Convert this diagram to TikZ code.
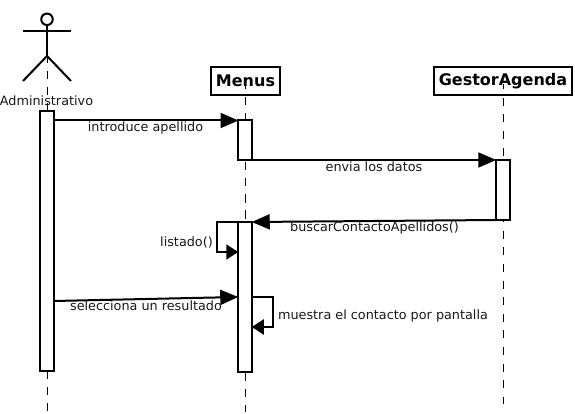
\documentclass[tikz,border=0pt]{standalone}
\usepackage{fontspec}
\setmainfont{DejaVu Sans}
\usetikzlibrary{arrows.meta}
\tikzset{
  lifeline/.style={line width=1pt},
  headbox/.style={draw,line width=2pt,fill=white,minimum height=28pt,inner sep=0pt,outer sep=0pt,font=\fontsize{16}{18}\selectfont\bfseries},
  activation/.style={draw,line width=2pt,fill=white,minimum width=13.5pt,inner sep=0pt,outer sep=0pt},
  msg/.style={line width=2pt,-{Triangle[length=18pt,width=15pt]}},
  selfmsg/.style={line width=2pt,-{Triangle[length=12pt,width=15pt]}},
  msglabel/.style={inner sep=0pt,font=\fontsize{12.8}{15}\selectfont,text=black!90},
  actorline/.style={line width=2pt}
}
\begin{document}
\begin{tikzpicture}[x=1pt,y=-1pt]
\useasboundingbox (0,0) rectangle (575,414);
\fill[white] (0,0) rectangle (575,414);
% lifelines
\coordinate (lA0) at (47.5,56); \coordinate (lA1) at (47.5,411);
\coordinate (lM0) at (245.5,84); \coordinate (lM1) at (245.5,412);
\coordinate (lG0) at (503.5,84); \coordinate (lG1) at (503.5,403.5);
\draw[lifeline,dash pattern=on 8pt off 7.8pt,dash phase=0.6pt] (lA0) -- (lA1);
% actor
\node[draw,circle,line width=2pt,minimum size=11.5pt,inner sep=0pt,outer sep=0pt] (head) at (47,19.3) {};
\coordinate (shL) at (23,31); \coordinate (shR) at (71,31);
\coordinate (hip) at (47,56); \coordinate (fL) at (23,81); \coordinate (fR) at (71,81);
\draw[actorline] (head.south) -- (hip);
\draw[actorline] (shL) -- (shR);
\draw[actorline] (fL) -- (hip) -- (fR);
\node[msglabel] (adm) at (46.5,101) {Administrativo};
% heads
\node[headbox,minimum width=68.5pt] (menus) at (245.5,81) {Menus};
\node[headbox,minimum width=138pt] (gestor) at (503,81) {GestorAgenda};
\draw[lifeline,dash pattern=on 8.5pt off 7.7pt,dash phase=3.2pt] (lM0) -- (lM1);
\draw[lifeline,dash pattern=on 8pt off 8.6pt,dash phase=2.7pt] (lG0) -- (lG1);
% activations
\node[activation,minimum height=260pt] (a1) at (47,241) {};
\node[activation,minimum height=40pt] (m1) at (245,140) {};
\node[activation,minimum height=60pt] (g1) at (503,190) {};
\node[activation,minimum height=150pt] (m2) at (245,297) {};
% messages
\coordinate (m1a) at (54,120.5); \coordinate (m1b) at (238.5,120.5);
\draw[msg] (m1a) -- (m1b);
\draw[msg] (m1.south east) -- (g1.north west);
\draw[msg] (g1.south west) -- (m2.north east);
\coordinate (ll) at (217,222); \coordinate (ll2) at (217,252);
\coordinate (lr1) at (238.5,222);
\draw[selfmsg] (lr1) -- (ll) -- (ll2) -- (m2.west |- ll2);
\draw[msg] (a1.east |- 0,301) -- (m2.west |- 0,297);
\coordinate (s1) at (273,297); \coordinate (s2) at (273,327);
\draw[selfmsg] (m2.east |- s1) -- (s1) -- (s2) -- (m2.east |- s2);
% labels
\node[msglabel] (t1) at (145.5,127.5) {introduce apellido};
\node[msglabel] (t2) at (374,166.5) {envia los datos};
\node[msglabel] (t3) at (374.5,227.5) {buscarContactoApellidos()};
\node[msglabel] (t4) at (186.5,242.5) {listado()};
\node[msglabel] (t5) at (146,305.5) {selecciona un resultado};
\node[msglabel] (t6) at (383,315.5) {muestra el contacto por pantalla};
\end{tikzpicture}
\end{document}
